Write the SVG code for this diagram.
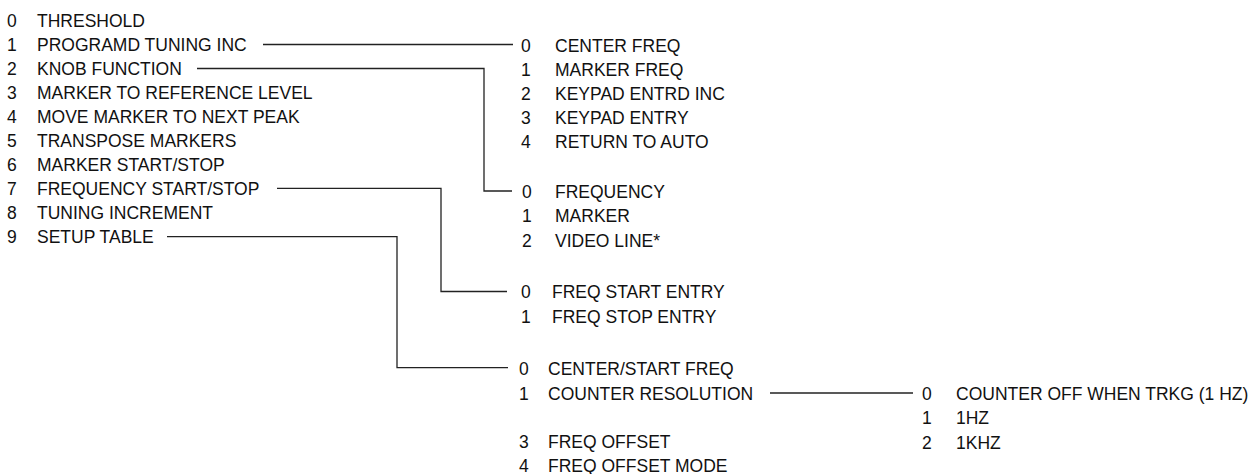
<svg xmlns="http://www.w3.org/2000/svg" width="1255" height="474" viewBox="0 0 1255 474">
<style>
text{font-family:"Liberation Sans",Arial,sans-serif;font-size:17.5px;fill:#111}
.c{fill:none;stroke:#222;stroke-width:1.3}
</style>
<rect width="1255" height="474" fill="#fff"/>
<g id="connectors">
<path class="c" d="M263,44.5 H513"/>
<path class="c" d="M197,68.5 H484 V191 H512"/>
<path class="c" d="M277,188.3 H441 V291.5 H507"/>
<path class="c" d="M167,236.7 H397 V367.7 H508"/>
<path class="c" d="M770,393 H913"/>
</g>
<g id="main-menu">
<text x="7" y="26.5">0</text><text x="37" y="26.5">THRESHOLD</text>
<text x="7" y="51">1</text><text x="37" y="51">PROGRAMD TUNING INC</text>
<text x="7" y="75">2</text><text x="37" y="75">KNOB FUNCTION</text>
<text x="7" y="99">3</text><text x="37" y="99">MARKER TO REFERENCE LEVEL</text>
<text x="7" y="123">4</text><text x="37" y="123">MOVE MARKER TO NEXT PEAK</text>
<text x="7" y="147">5</text><text x="37" y="147">TRANSPOSE MARKERS</text>
<text x="7" y="171">6</text><text x="37" y="171">MARKER START/STOP</text>
<text x="7" y="195">7</text><text x="37" y="195">FREQUENCY START/STOP</text>
<text x="7" y="219">8</text><text x="37" y="219">TUNING INCREMENT</text>
<text x="7" y="243">9</text><text x="37" y="243">SETUP TABLE</text>
</g>
<g id="tuning-inc-menu">
<text x="521" y="51.5">0</text><text x="555" y="51.5">CENTER FREQ</text>
<text x="521" y="75.5">1</text><text x="555" y="75.5">MARKER FREQ</text>
<text x="521" y="99.5">2</text><text x="555" y="99.5">KEYPAD ENTRD INC</text>
<text x="521" y="123.5">3</text><text x="555" y="123.5">KEYPAD ENTRY</text>
<text x="521" y="147.5">4</text><text x="555" y="147.5">RETURN TO AUTO</text>
</g>
<g id="knob-menu">
<text x="522" y="197.5">0</text><text x="555" y="197.5">FREQUENCY</text>
<text x="522" y="222">1</text><text x="555" y="222">MARKER</text>
<text x="522" y="246.5">2</text><text x="555" y="246.5">VIDEO LINE*</text>
</g>
<g id="freq-start-stop-menu">
<text x="521" y="298">0</text><text x="552" y="298">FREQ START ENTRY</text>
<text x="521" y="322.5">1</text><text x="552" y="322.5">FREQ STOP ENTRY</text>
</g>
<g id="setup-table-menu">
<text x="519" y="374.5">0</text><text x="548" y="374.5">CENTER/START FREQ</text>
<text x="519" y="399.5">1</text><text x="548" y="399.5">COUNTER RESOLUTION</text>
<text x="519" y="448">3</text><text x="548" y="448">FREQ OFFSET</text>
<text x="519" y="472">4</text><text x="548" y="472">FREQ OFFSET MODE</text>
</g>
<g id="counter-resolution-menu">
<text x="922" y="399.5">0</text><text x="956" y="399.5">COUNTER OFF WHEN TRKG (1 HZ)</text>
<text x="922" y="424">1</text><text x="956" y="424">1HZ</text>
<text x="922" y="448.5">2</text><text x="956" y="448.5">1KHZ</text>
</g>
</svg>
